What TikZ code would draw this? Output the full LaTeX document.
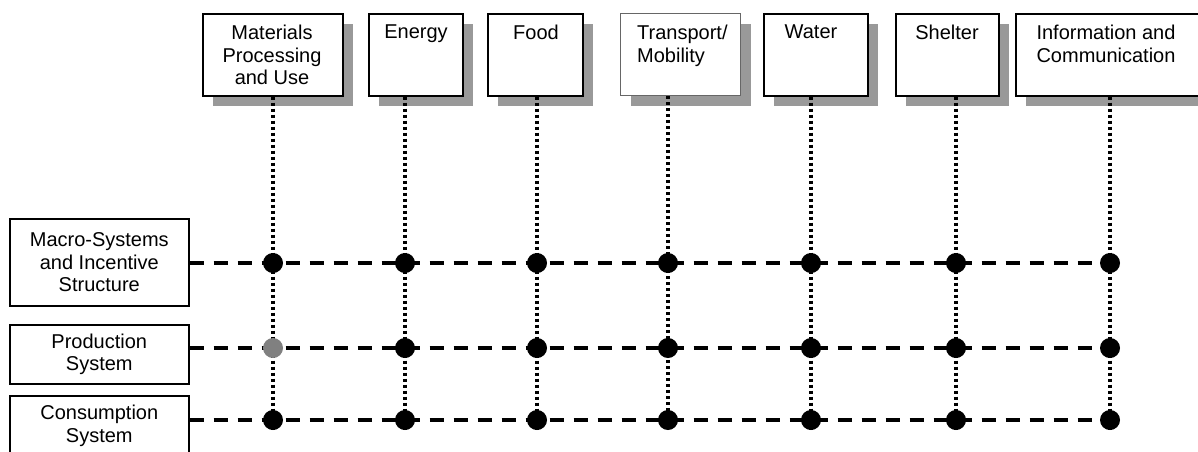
\documentclass[tikz,border=0pt]{standalone}
\usepackage{fontspec}
\setmainfont{Liberation Sans}
\usepackage{tikz}
\usetikzlibrary{positioning,calc,shadows}

\tikzset{
    sector/.style={draw, line width=1.6pt, fill=white, anchor=north west, minimum height=82pt,
        general shadow={fill=black!40, shadow xshift=10pt, shadow yshift=-10pt}},
    sectorfaint/.style={sector, draw=black!60, line width=1pt},
    level/.style={draw, line width=1.6pt, anchor=north west, align=center, minimum width=179pt},
    tag/.style={inner sep=0pt},
    link/.style={line width=4.5pt, dash pattern=on 14pt off 10pt},
    thread/.style={line width=3.5pt, dash pattern=on 3pt off 3pt},
    hub/.style={circle, fill=black, inner sep=0pt, minimum size=20pt}
}

\begin{document}
\begin{tikzpicture}[x=1pt, y=-1pt, font=\fontsize{20}{22.5}\selectfont]
    \useasboundingbox (0,0) rectangle (1198,451);

    % Levels
    \node[level, minimum height=87pt] (macro) at (9,218) {Macro-Systems\\and Incentive\\Structure};
    \node[level, minimum height=59pt] (prod) at (9,324) {Production\\System};
    \node[level, minimum height=60pt] (cons) at (9,395) {Consumption\\System};

    % Horizontal links
    \foreach \lv/\ry in {macro/263, prod/348, cons/420}{
        \coordinate (end\lv) at (1110,\ry);
        \draw[link] (\lv.east |- end\lv) -- (end\lv);
    }

    % Sectors
    \foreach \name/\l/\r/\vx/\tx/\an/\al/\st/\txt [count=\i] in {
        mat/202/342/273/272/north/center/sector/{Materials\\Processing\\and Use},
        ene/368/462/405/416/north/center/sector/{Energy},
        foo/487/582/537/536/north/center/sector/{Food},
        tra/620/740/668/637/north west/left/sectorfaint/{Transport/\\Mobility},
        wat/763/867/811/811/north/center/sector/{Water},
        she/895/998/956/947/north/center/sector/{Shelter},
        inf/1015/1202/1110/1106/north/center/sector/{Information and\\Communication}}
    {
        \pgfmathsetmacro\w{\r-\l}
        \node[\st, minimum width=\w pt] (s\name) at (\l,13) {};
        \node[tag, anchor=\an, align=\al] (t\name) at (\tx,25) {\txt};
        \coordinate (b\name) at (\vx,430);
        \draw[thread] (s\name.south -| b\name) -- (b\name);
        \foreach \row/\ry in {1/263, 2/348, 3/420}{
            \ifnum\i\row=12 \def\hc{black!50}\else\def\hc{black}\fi
            \node[hub, fill=\hc] (h\name\row) at (\vx,\ry) {};
        }
    }
\end{tikzpicture}
\end{document}
